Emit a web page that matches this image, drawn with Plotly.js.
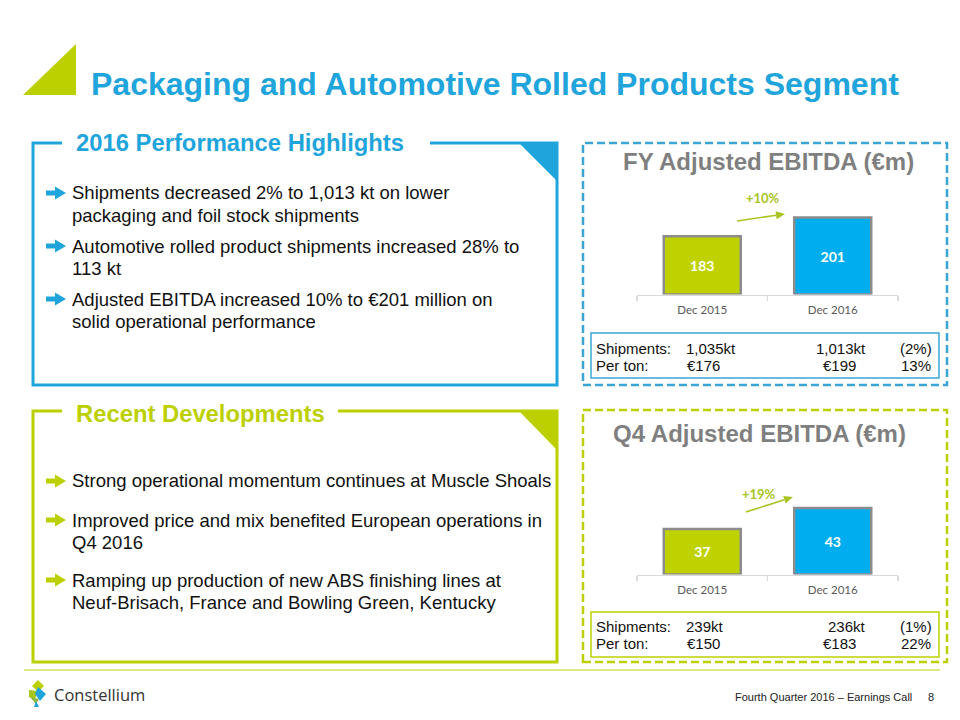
<!DOCTYPE html>
<html>
<head>
<meta charset="utf-8">
<script src="https://cdn.plot.ly/plotly-3.0.1.min.js"></script>
<style>html,body{margin:0;padding:0;background:#fff;}#chart{width:960px;height:720px;}</style>
</head>
<body>
<div id="chart"></div>
<script>
// ---- data ----
const categories = ['Dec 2015', 'Dec 2016'];
const fyEbitda = [183, 201];
const q4Ebitda = [37, 43];
const fyGrowth = '+10%';
const q4Growth = '+19%';
const fyShipments = ['1,035kt', '1,013kt', '(2%)'];
const fyPerTon = ['€176', '€199', '13%'];
const q4Shipments = ['239kt', '236kt', '(1%)'];
const q4PerTon = ['€150', '€183', '22%'];
const mainTitle = 'Packaging and Automotive Rolled Products Segment';
const highlightsTitle = '2016 Performance Highlights';
const developmentsTitle = 'Recent Developments';
const highlights = [
  ['Shipments decreased 2% to 1,013 kt on lower', 'packaging and foil stock shipments'],
  ['Automotive rolled product shipments increased 28% to', '113 kt'],
  ['Adjusted EBITDA increased 10% to €201 million on', 'solid operational performance']
];
const developments = [
  ['Strong operational momentum continues at Muscle Shoals'],
  ['Improved price and mix benefited European operations in', 'Q4 2016'],
  ['Ramping up production of new ABS finishing lines at', 'Neuf-Brisach, France and Bowling Green, Kentucky']
];
const footerText = 'Fourth Quarter 2016 – Earnings Call';
const pageNumber = '8';
const companyName = 'Constellium';

// ---- style ----
const BLUE = '#1FA5DC', GREEN = '#BCD000', BAR_BLUE = '#00AEEF', BAR_GREEN = '#BFD200';
const GRAY_T = '#7F7F7F', ARIAL = 'Arial, Liberation Sans, sans-serif', CAL = 'Lato, Carlito, sans-serif';
const barColors = [BAR_GREEN, BAR_BLUE];
const X = p => p / 960, Y = p => 1 - p / 720;
const fyBase = 127, q4Base = 24;

function P(pts, close) {
  return pts.map((p, i) => (i ? 'L' : 'M') + X(p[0]).toFixed(5) + ',' + Y(p[1]).toFixed(5)).join(' ') + (close ? ' Z' : '');
}
const shapes = [], annotations = [];
function ann(text, x, y, o) {
  annotations.push(Object.assign({text, x: X(x), y: Y(y), xref: 'paper', yref: 'paper',
    showarrow: false, xanchor: 'left', yanchor: 'middle',
    font: {family: ARIAL, size: 18.5, color: '#111'}}, o || {}));
}
function pathShape(pts, close, line, fill) {
  shapes.push({type: 'path', xref: 'paper', yref: 'paper', path: P(pts, close),
    line: line || {width: 0}, fillcolor: fill || 'rgba(0,0,0,0)', layer: 'above'});
}
function rectShape(x0, y0, x1, y1, line) {
  shapes.push({type: 'rect', xref: 'paper', yref: 'paper', x0: X(x0), x1: X(x1), y0: Y(y1), y1: Y(y0),
    line: line, fillcolor: 'rgba(0,0,0,0)'});
}
function growthArrow(x0, y0, x1, y1, color) {
  const dx = x1 - x0, dy = y1 - y0, L = Math.hypot(dx, dy), ux = dx / L, uy = dy / L, nx = -uy, ny = ux;
  const bx = x1 - 9 * ux, by = y1 - 9 * uy;
  pathShape([[x0, y0], [bx, by]], false, {color, width: 1.6});
  pathShape([[x1, y1], [bx + 4 * nx, by + 4 * ny], [bx - 4 * nx, by - 4 * ny]], true, {width: 0}, color);
}
function bulletArrow(yc, color) {
  pathShape([[46, yc - 2.5], [55, yc - 2.5], [55, yc - 6.5], [66, yc], [55, yc + 6.5], [55, yc + 2.5], [46, yc + 2.5]], true, {width: 0}, color);
}

// main title + triangle
pathShape([[23, 95], [76, 44], [76, 95]], true, {width: 0}, GREEN);
ann(mainTitle, 89, 84, {font: {family: ARIAL, size: 32, color: BLUE, weight: 700}});

// left boxes
pathShape([[62, 143], [33, 143], [33, 385], [557, 385], [557, 143], [430, 143]], false, {color: BLUE, width: 3});
pathShape([[519, 143], [557, 143], [557, 181]], true, {width: 0}, BLUE);
ann(highlightsTitle, 74, 143, {font: {family: ARIAL, size: 23.8, color: BLUE, weight: 700}});
pathShape([[62, 411], [33, 411], [33, 662], [557, 662], [557, 411], [338, 411]], false, {color: GREEN, width: 3});
pathShape([[519, 411], [557, 411], [557, 450]], true, {width: 0}, GREEN);
ann(developmentsTitle, 74, 413, {font: {family: ARIAL, size: 23.8, color: GREEN, weight: 700}});

const hlY = [193, 246, 299];
highlights.forEach((lines, i) => {
  bulletArrow(hlY[i], BLUE);
  lines.forEach((t, j) => ann(t, 70, hlY[i] + j * 22));
});
const dvY = [481, 520, 580];
developments.forEach((lines, i) => {
  bulletArrow(dvY[i], GREEN);
  lines.forEach((t, j) => ann(t, 70, dvY[i] + j * 22.5));
});

// right dashed boxes
rectShape(583, 143, 947, 385, {color: '#3BA6D6', width: 2.5, dash: '8px,4px'});
rectShape(583, 410, 947, 662, {color: '#BCD000', width: 2.5, dash: '8px,4px'});
rectShape(591, 333, 939, 378, {color: '#3BA6D6', width: 1.5});
rectShape(591, 612, 939, 657, {color: '#BCD000', width: 1.5});
ann('FY Adjusted EBITDA (€m)', 768, 161, {xanchor: 'center', font: {family: ARIAL, size: 24, color: GRAY_T, weight: 700}});
ann('Q4 Adjusted EBITDA (€m)', 759, 433, {xanchor: 'center', font: {family: ARIAL, size: 24, color: GRAY_T, weight: 700}});

function statRows(ship, per, y1, y2) {
  const f = {family: ARIAL, size: 15, color: '#111'};
  ann('Shipments:', 594, y1, {font: f});
  ann('Per ton:', 594, y2, {font: f});
  ann(ship[0], 684, y1, {font: f});
  ann(per[0], 685, y2, {font: f});
  ann(ship[1], 868, y1, {font: f, xanchor: 'right'});
  ann(per[1], 821, y2, {font: f});
  ann(ship[2], 934, y1, {font: f, xanchor: 'right'});
  ann(per[2], 933, y2, {font: f, xanchor: 'right'});
}
statRows(fyShipments, fyPerTon, 348, 365);
statRows(q4Shipments, q4PerTon, 626, 643.5);

// growth arrows + labels
growthArrow(737, 221, 785, 214, '#A9C422');
ann(fyGrowth, 763, 198, {xanchor: 'center', font: {family: CAL, size: 13, color: '#A9C422', weight: 700}});
growthArrow(746, 512, 793, 497, '#A9C422');
ann(q4Growth, 759, 494, {xanchor: 'center', font: {family: CAL, size: 13, color: '#A9C422', weight: 700}});

// footer
pathShape([[24, 670], [940, 670]], false, {color: '#D5DF5A', width: 1.5});
pathShape([[38, 680], [44, 686], [38, 692], [32, 686]], true, {width: 0}, '#BCD000');
pathShape([[29, 690], [38, 691], [35, 699], [29, 697]], true, {width: 0}, '#A6C61C');
pathShape([[38, 687], [46, 694], [40, 701], [35, 694]], true, {width: 0}, '#1FA5DC');
pathShape([[30, 697], [39, 699], [36, 704]], true, {width: 0}, '#8DB83A');
pathShape([[36, 701], [39, 707], [34, 707]], true, {width: 0}, '#1FA5DC');
ann(companyName, 52, 694, {font: {family: 'Open Sans, sans-serif', size: 16.5, color: '#333'}});
ann(footerText, 733, 697, {font: {family: ARIAL, size: 11, color: '#222'}});
ann(pageNumber, 931, 697, {xanchor: 'center', font: {family: ARIAL, size: 11, color: '#222'}});

// ---- bar traces ----
function barTrace(vals, base, xa, ya) {
  return {
    type: 'bar', x: categories, y: vals.map(v => v - base), base: base,
    text: vals.map(String), textposition: 'inside', insidetextanchor: 'middle',
    textfont: {family: CAL, size: 14, color: '#fff', weight: 700},
    marker: {color: barColors, line: {color: '#8C8C8C', width: 2.5}},
    width: 0.59, xaxis: xa, yaxis: ya, hoverinfo: 'none', cliponaxis: false
  };
}
const xaxisStyle = {
  type: 'category', domain: [X(637), X(898)], showline: true, linecolor: '#D9D9D9', linewidth: 1.5,
  ticks: 'outside', tickson: 'boundaries', ticklen: 5, tickcolor: '#D9D9D9', tickwidth: 1.5,
  ticklabelstandoff: 4,
  tickfont: {family: CAL, size: 11.5, color: '#595959'}, showgrid: false, zeroline: false, fixedrange: true
};
const layout = {
  width: 960, height: 720, margin: {l: 0, r: 0, t: 0, b: 0},
  paper_bgcolor: '#fff', plot_bgcolor: 'rgba(0,0,0,0)', showlegend: false,
  xaxis: Object.assign({}, xaxisStyle, {anchor: 'y'}),
  yaxis: {domain: [Y(294.5), Y(180)], range: [fyBase, fyBase + 114.5 / 1.04], visible: false, fixedrange: true},
  xaxis2: Object.assign({}, xaxisStyle, {anchor: 'y2'}),
  yaxis2: {domain: [Y(574.5), Y(470)], range: [q4Base, q4Base + 104.5 / 3.5], visible: false, fixedrange: true},
  shapes, annotations
};
Plotly.newPlot('chart', [barTrace(fyEbitda, fyBase, 'x', 'y'), barTrace(q4Ebitda, q4Base, 'x2', 'y2')], layout,
  {staticPlot: true, displayModeBar: false});
</script>
</body>
</html>
